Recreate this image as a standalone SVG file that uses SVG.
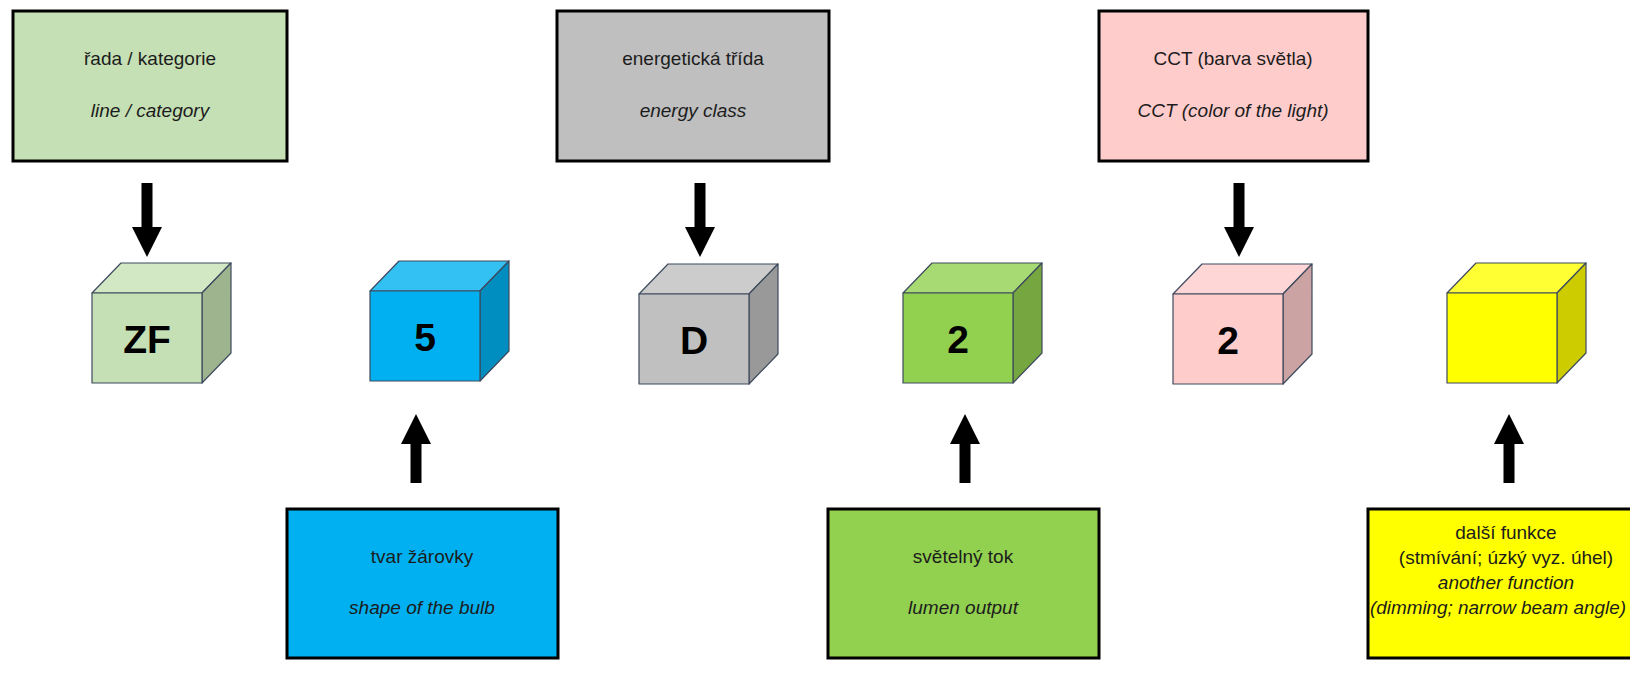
<svg xmlns="http://www.w3.org/2000/svg" xmlns:xlink="http://www.w3.org/1999/xlink" width="1630" height="676" viewBox="0 0 1630 676">
<style>
.box{stroke:#000;stroke-width:3}
.cube{stroke:#3e4a5e;stroke-width:1.2;stroke-linejoin:round}
.t{font-family:"Liberation Sans",Arial,sans-serif;font-size:19px;fill:#1c1c1c;text-anchor:middle}
.i{font-style:italic}
.lbl{font-family:"Liberation Sans",Arial,sans-serif;font-size:39px;font-weight:bold;fill:#000;text-anchor:middle}
.arr{fill:#000}
</style>
<defs>
<polygon id="down" class="arr" points="-5.5,183 5.5,183 5.5,227 15,227 0,257 -15,227 -5.5,227"/>
<polygon id="up" class="arr" points="-5.5,483 5.5,483 5.5,444 15,444 0,414 -15,444 -5.5,444"/>
</defs>
<rect width="1630" height="676" fill="#fff"/>

<g id="connectors">
<use xlink:href="#down" x="147"/>
<use xlink:href="#down" x="700"/>
<use xlink:href="#down" x="1239"/>
<use xlink:href="#up" x="416"/>
<use xlink:href="#up" x="965"/>
<use xlink:href="#up" x="1509"/>
</g>

<g id="box-rada">
<rect class="box" x="13" y="11" width="274" height="150" fill="#C5E0B4"/>
<text class="t" x="150" y="65">řada / kategorie</text>
<text class="t i" x="150" y="117">line / category</text>
</g>
<g id="box-energie">
<rect class="box" x="557" y="11" width="272" height="150" fill="#BFBFBF"/>
<text class="t" x="693" y="65">energetická třída</text>
<text class="t i" x="693" y="117">energy class</text>
</g>
<g id="box-cct">
<rect class="box" x="1099" y="11" width="269" height="150" fill="#FFCCCC"/>
<text class="t" x="1233" y="65">CCT (barva světla)</text>
<text class="t i" x="1233" y="117">CCT  (color of the light)</text>
</g>
<g id="box-tvar">
<rect class="box" x="287" y="509" width="271" height="149" fill="#00B0F0"/>
<text class="t" x="422" y="563">tvar žárovky</text>
<text class="t i" x="422" y="614">shape of the bulb</text>
</g>
<g id="box-tok">
<rect class="box" x="828" y="509" width="271" height="149" fill="#92D050"/>
<text class="t" x="963" y="563">světelný tok</text>
<text class="t i" x="963" y="614">lumen output</text>
</g>
<g id="box-funkce">
<rect class="box" x="1368" y="509" width="280" height="149" fill="#FFFF00"/>
<text class="t" x="1506" y="539">další funkce</text>
<text class="t" x="1506" y="564">(stmívání; úzký vyz. úhel)</text>
<text class="t i" x="1506" y="589">another function</text>
<text class="t i" x="1498" y="614" textLength="256" lengthAdjust="spacingAndGlyphs">(dimming; narrow beam angle)</text>
</g>

<g id="cube-zf" transform="translate(92,293)">
<polygon class="cube" points="0,0 29,-30 139,-30 110,0" fill="#D2E7C4"/>
<polygon class="cube" points="110,0 139,-30 139,60 110,90" fill="#9EB48F"/>
<rect class="cube" x="0" y="0" width="110" height="90" fill="#C5E0B4"/>
<text class="lbl" x="55" y="60">ZF</text>
</g>
<g id="cube-5" transform="translate(370,291)">
<polygon class="cube" points="0,0 29,-30 139,-30 110,0" fill="#33C0F3"/>
<polygon class="cube" points="110,0 139,-30 139,60 110,90" fill="#008DC0"/>
<rect class="cube" x="0" y="0" width="110" height="90" fill="#00B0F0"/>
<text class="lbl" x="55" y="60">5</text>
</g>
<g id="cube-d" transform="translate(639,294)">
<polygon class="cube" points="0,0 29,-30 139,-30 110,0" fill="#CCCCCC"/>
<polygon class="cube" points="110,0 139,-30 139,60 110,90" fill="#999999"/>
<rect class="cube" x="0" y="0" width="110" height="90" fill="#C0C0C0"/>
<text class="lbl" x="55" y="60">D</text>
</g>
<g id="cube-2g" transform="translate(903,293)">
<polygon class="cube" points="0,0 29,-30 139,-30 110,0" fill="#A8DA73"/>
<polygon class="cube" points="110,0 139,-30 139,60 110,90" fill="#75A640"/>
<rect class="cube" x="0" y="0" width="110" height="90" fill="#92D050"/>
<text class="lbl" x="55" y="60">2</text>
</g>
<g id="cube-2p" transform="translate(1173,294)">
<polygon class="cube" points="0,0 29,-30 139,-30 110,0" fill="#FFD6D6"/>
<polygon class="cube" points="110,0 139,-30 139,60 110,90" fill="#CCA3A3"/>
<rect class="cube" x="0" y="0" width="110" height="90" fill="#FFCCCC"/>
<text class="lbl" x="55" y="60">2</text>
</g>
<g id="cube-y" transform="translate(1447,293)">
<polygon class="cube" points="0,0 29,-30 139,-30 110,0" fill="#FFFF33"/>
<polygon class="cube" points="110,0 139,-30 139,60 110,90" fill="#CCCC00"/>
<rect class="cube" x="0" y="0" width="110" height="90" fill="#FFFF00"/>
</g>
</svg>
